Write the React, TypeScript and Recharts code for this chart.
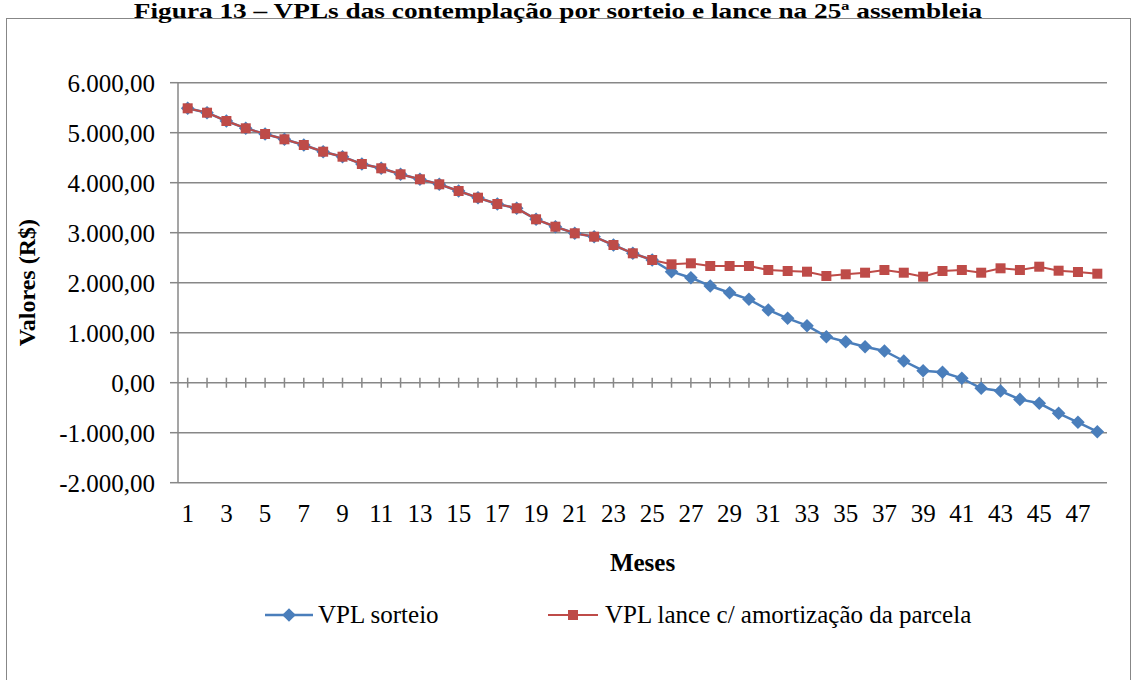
import React from "react";
import { LineChart, Line, XAxis, YAxis, CartesianGrid } from "recharts";

const meses = [
  1, 2, 3, 4, 5, 6, 7, 8, 9, 10, 11, 12, 13, 14, 15, 16, 17, 18, 19, 20, 21, 22, 23, 24,
  25, 26, 27, 28, 29, 30, 31, 32, 33, 34, 35, 36, 37, 38, 39, 40, 41, 42, 43, 44, 45, 46, 47, 48,
];

const vplSorteio = [
  5488, 5400, 5234, 5088, 4974, 4868, 4754, 4620, 4520, 4374, 4288, 4168, 4068, 3968, 3834, 3700,
  3574, 3488, 3268, 3120, 2988, 2920, 2754, 2588, 2454, 2220, 2100, 1934, 1800, 1668, 1454, 1288,
  1140, 920, 820, 720, 634, 434, 240, 208, 88, -112, -166, -334, -412, -612, -792, -980,
];

const vplLance = [
  5488, 5400, 5234, 5088, 4974, 4868, 4754, 4620, 4520, 4374, 4288, 4168, 4068, 3968, 3834, 3700,
  3574, 3488, 3268, 3120, 2988, 2920, 2754, 2588, 2454, 2368, 2388, 2334, 2334, 2334, 2254, 2234,
  2220, 2134, 2168, 2200, 2254, 2200, 2120, 2234, 2254, 2200, 2288, 2254, 2320, 2240, 2214, 2180,
];

const yTicks = [-2000, -1000, 0, 1000, 2000, 3000, 4000, 5000, 6000];

const AZUL = "#4A7EBB";
const VERMELHO = "#BE4B48";
const CINZA = "#878787";
const FONTE = '"Liberation Serif", "Times New Roman", serif';

const data = meses.map((m, i) => ({
  mes: m,
  sorteio: vplSorteio[i],
  lance: vplLance[i],
  eixo: 0,
}));

// 6000 -> "6.000,00"
function formatBR(v: number) {
  const int = Math.abs(v)
    .toFixed(0)
    .replace(/\B(?=(\d{3})+(?!\d))/g, ".");
  return (v < 0 ? "-" : "") + int + ",00";
}

function Diamond(props: any) {
  const { cx, cy } = props;
  if (cx == null || cy == null) return null;
  const r = 6.8;
  return (
    <polygon
      points={`${cx},${cy - r} ${cx + r},${cy} ${cx},${cy + r} ${cx - r},${cy}`}
      fill={AZUL}
    />
  );
}

function Quadrado(props: any) {
  const { cx, cy } = props;
  if (cx == null || cy == null) return null;
  return <rect x={cx - 5} y={cy - 5} width={10} height={10} fill={VERMELHO} />;
}

// small tick marks crossing the zero line
function Marca(props: any) {
  const { cx, cy } = props;
  if (cx == null || cy == null) return null;
  return <line x1={cx} x2={cx} y1={cy - 5} y2={cy + 5} stroke={CINZA} strokeWidth={1.5} />;
}

export default function App() {
  return (
    <div
      style={{
        position: "absolute",
        left: 0,
        top: 0,
        width: 1135,
        height: 680,
        background: "#fff",
        fontFamily: FONTE,
        overflow: "hidden",
      }}
    >
      <div
        style={{
          position: "absolute",
          left: 6,
          top: 18,
          width: 1123,
          height: 700,
          border: `1.5px solid ${CINZA}`,
        }}
      />

      <LineChart
        width={1135}
        height={680}
        data={data}
        margin={{ top: 82.7, right: 28, bottom: 167.3, left: 8 }}
        style={{ position: "absolute", left: 0, top: 0 }}
      >
        <CartesianGrid vertical={false} stroke={CINZA} strokeWidth={1.5} />
        <XAxis
          dataKey="mes"
          interval={1}
          height={30}
          padding={{ left: 9.68, right: 9.68 }}
          axisLine={false}
          tickLine={false}
          tickMargin={16}
          tick={{ fontSize: 25, fill: "#000", fontFamily: FONTE }}
          label={{
            value: "Meses",
            position: "bottom",
            offset: 41,
            style: { fontSize: 25, fontWeight: "bold", fill: "#000", fontFamily: FONTE },
          }}
        />
        <YAxis
          domain={[-2000, 6000]}
          ticks={yTicks}
          width={170}
          tickFormatter={formatBR}
          axisLine={{ stroke: CINZA, strokeWidth: 1.5 }}
          tickLine={{ stroke: CINZA, strokeWidth: 1.5 }}
          tickSize={8}
          tickMargin={15}
          tick={{ fontSize: 25, fill: "#000", fontFamily: FONTE }}
          label={{
            value: "Valores (R$)",
            angle: -90,
            position: "insideLeft",
            offset: 18,
            style: {
              fontSize: 24,
              fontWeight: "bold",
              fill: "#000",
              fontFamily: FONTE,
              textAnchor: "middle",
            },
          }}
        />
        <Line
          dataKey="eixo"
          stroke="none"
          dot={<Marca />}
          activeDot={false}
          legendType="none"
          isAnimationActive={false}
        />
        <Line
          dataKey="sorteio"
          name="VPL sorteio"
          stroke={AZUL}
          strokeWidth={2.5}
          dot={<Diamond />}
          activeDot={false}
          isAnimationActive={false}
        />
        <Line
          dataKey="lance"
          name="VPL lance c/ amortização da parcela"
          stroke={VERMELHO}
          strokeWidth={2}
          dot={<Quadrado />}
          activeDot={false}
          isAnimationActive={false}
        />
      </LineChart>

      <div
        style={{
          position: "absolute",
          zIndex: 2,
          left: 0,
          top: 0,
          width: 1116,
          textAlign: "center",
          fontWeight: "bold",
          fontSize: 22,
          lineHeight: "22px",
          whiteSpace: "nowrap",
          transform: "scaleX(1.24)",
          transformOrigin: "558px 0",
        }}
      >
        Figura 13 – VPLs das contemplação por sorteio e lance na 25ª assembleia
      </div>

      <div style={{ position: "absolute", left: 265, top: 601, display: "flex", alignItems: "center" }}>
        <svg width={48} height={20}>
          <line x1={0} x2={48} y1={10} y2={10} stroke={AZUL} strokeWidth={2.5} />
          <Diamond cx={24} cy={10} />
        </svg>
        <span style={{ fontSize: 25, marginLeft: 5 }}>VPL sorteio</span>
      </div>
      <div style={{ position: "absolute", left: 548, top: 601, display: "flex", alignItems: "center" }}>
        <svg width={50} height={20}>
          <line x1={0} x2={50} y1={10} y2={10} stroke={VERMELHO} strokeWidth={2} />
          <Quadrado cx={25} cy={10} />
        </svg>
        <span style={{ fontSize: 25, marginLeft: 7 }}>VPL lance c/ amortização da parcela</span>
      </div>
    </div>
  );
}
